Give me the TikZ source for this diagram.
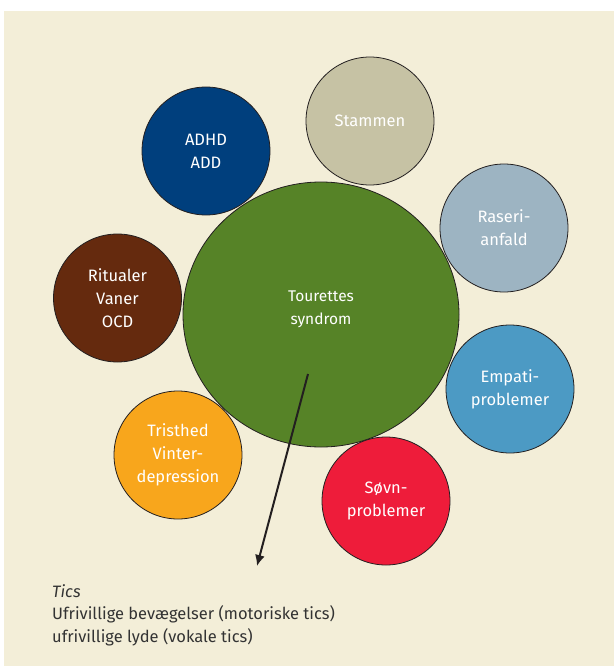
\documentclass[tikz,border=0pt]{standalone}
\usepackage{fontspec}
\setmainfont{Fira Sans}
\usetikzlibrary{shapes.geometric, arrows.meta}

\definecolor{creme}{RGB}{243,238,216}
\definecolor{vert}{RGB}{86,131,39}
\definecolor{bleufonce}{RGB}{0,63,125}
\definecolor{beige}{RGB}{198,194,164}
\definecolor{grisbleu}{RGB}{157,180,194}
\definecolor{bleuclair}{RGB}{76,154,196}
\definecolor{rouge}{RGB}{238,28,58}
\definecolor{orange}{RGB}{248,166,28}
\definecolor{brun}{RGB}{101,42,14}
\definecolor{trait}{RGB}{35,31,32}
\definecolor{texte}{RGB}{51,51,51}

\tikzset{
  bulle/.style={circle, draw=trait, line width=0.8pt, minimum size=128pt,
    inner sep=0pt, text=white, align=center, font=\fontsize{16.5}{23}\selectfont},
}

\begin{document}
\begin{tikzpicture}[x=1pt, y=-1pt]
        % Fond
        \useasboundingbox (0,0) rectangle (614,666);
        \fill[white] (0,0) rectangle (614,666);
        \fill[creme] (4,11) rectangle (614,666);

        % Cercle central
        \node[ellipse, draw=trait, line width=0.8pt, fill=vert,
              minimum width=276pt, minimum height=265pt] (tourette) at (321,314.5) {};
        \node[text=white, align=center, font=\fontsize{15.5}{23}\selectfont]
              (titre) at (321,309) {Tourettes\\syndrom};

        % Bulles autour
        \node[bulle, fill=bleufonce] (adhd) at (206,151) {ADHD\\ADD};
        \node[bulle, fill=beige] (stammen) at (370,121) {Stammen};
        \node[bulle, fill=grisbleu] (raseri) at (504,228) {Raseri-\\anfald};
        \node[bulle, fill=bleuclair] (empati) at (510,389) {Empati-\\problemer};
        \node[bulle, fill=rouge] (sovn) at (386,501) {Søvn-\\problemer};
        \node[bulle, fill=orange] (tristhed) at (178,455) {Tristhed\\Vinter-\\depression};
        \node[bulle, fill=brun] (ritualer) at (117.5,298) {Ritualer\\Vaner\\OCD};

        % Fleche vers les tics
        \coordinate (depart) at (308,374);
        \coordinate (fin) at (257,566);
        \draw[trait, line width=2pt, -{Latex[length=11pt, width=10pt]}] (depart) -- (fin);

        % Legende
        \node[anchor=north west, text=texte, align=left, inner sep=0pt,
              font=\fontsize{16.5}{22.5}\selectfont] (tics) at (52,584)
              {\textit{Tics}\\Ufrivillige bevægelser (motoriske tics)\\ufrivillige lyde (vokale tics)};

    \end{tikzpicture}
\end{document}
